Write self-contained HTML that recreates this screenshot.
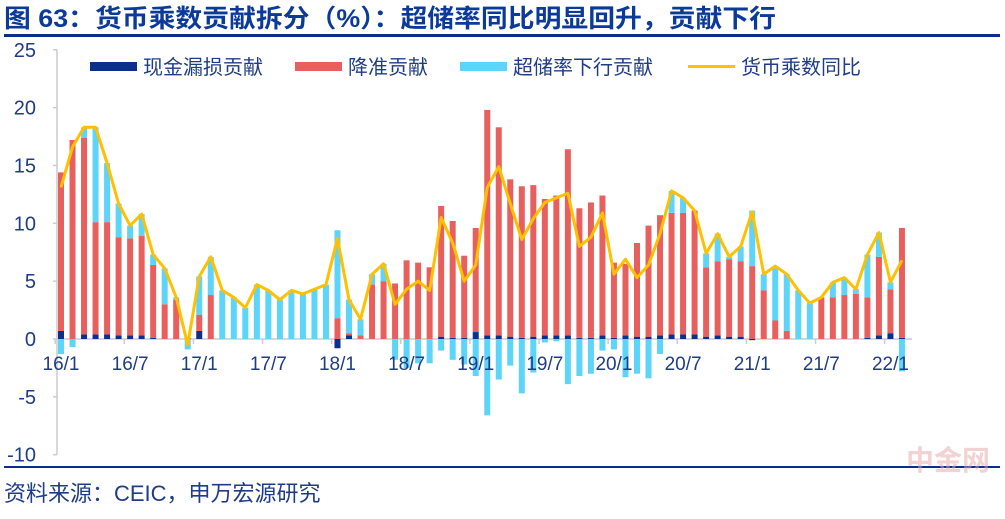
<!DOCTYPE html>
<html><head><meta charset="utf-8"><style>
body{margin:0;background:#fff;width:1005px;height:514px;overflow:hidden;font-family:"Liberation Sans","Noto Sans CJK SC",sans-serif}
</style></head><body>
<svg id="c" width="1005" height="514">
<text x="4" y="27" font-size="25" font-weight="bold" fill="#0B3A9A" font-family="Liberation Sans, Noto Sans CJK SC, sans-serif" textLength="772" lengthAdjust="spacingAndGlyphs">图 63：货币乘数贡献拆分（%）：超储率同比明显回升，贡献下行</text>
<rect x="4" y="34" width="996" height="3" fill="#0B2D8C"/>
<rect x="4" y="466" width="996" height="2" fill="#0B2D8C"/>
<text x="4" y="501" font-size="22" fill="#1F3C88" font-family="Liberation Sans, Noto Sans CJK SC, sans-serif">资料来源：CEIC，申万宏源研究</text>
<text x="990" y="470" text-anchor="end" font-size="28" font-weight="bold" fill="#e6a8a8" opacity="0.5" font-family="Noto Sans CJK SC, sans-serif">中金网</text>
<g id="plot"></g>
<g id="legend" font-size="20" fill="#1F3C88" font-family="Liberation Sans, Noto Sans CJK SC, sans-serif">
<rect x="90" y="62" width="47" height="9" fill="#0A2F8F"/>
<text x="143" y="74">现金漏损贡献</text>
<rect x="295" y="62" width="47" height="9" fill="#E8605E"/>
<text x="348" y="74">降准贡献</text>
<rect x="460" y="62" width="47" height="9" fill="#5DD4FA"/>
<text x="513" y="74">超储率下行贡献</text>
<rect x="688" y="65" width="47" height="3" fill="#FFC000"/>
<text x="741" y="74">货币乘数同比</text>
</g>
</svg>
<script>
const cash=[0.7,0,0.4,0.4,0.4,0.3,0.3,0.3,0.1,0,0,0.1, 0.7,0,0,0,0,0,0,0,0,0,0,0, -0.8,0.3,0,0,0,0,0,0,0,0.2,0.1,0.1, 0.6,0.3,0.3,0.2,0.1,0.2,0.3,0.3,0.3,0.1,0.1,0.3, 0.1,0.3,0.2,0.2,0.3,0.4,0.4,0.4,0.2,0.3,0.2,0.2, -0.1,0,0,0,0,0,0,0,0,0,0.1,0.3, 0.5,0.1];
const rrr=[13.7,17.2,17.0,9.7,9.7,8.5,8.4,8.6,6.3,3.0,3.4,0, 1.4,3.8,0,0,0,0,0,0,0,0,0,0, 1.8,0.2,0.3,4.7,5.0,4.8,6.8,6.6,6.2,11.3,10.1,7.1, 9.0,19.5,18.0,13.6,13.1,13.1,11.8,12.1,16.1,11.2,11.7,12.1, 6.5,6.2,8.1,9.6,10.4,10.5,10.5,10.7,6.0,6.4,6.7,6.5, 6.3,4.2,1.6,0.7,0,0,3.6,3.6,3.8,3.9,3.5,6.8, 3.8,9.5];
const excess=[-1.3,-0.7,0.9,8.2,5.1,2.9,1.1,1.9,0.9,3.1,0.2,-0.9, 3.3,3.3,4.2,3.6,2.7,4.7,4.2,3.4,4.2,3.9,4.3,4.7, 7.6,2.9,1.4,0.9,1.5,-1.8,-2.5,-2.1,-2.1,-1.0,-1.8,-2.2, -3.2,-6.6,-3.5,-2.3,-4.7,-2.9,-0.3,-0.2,-3.9,-3.2,-3.0,-1.0, -0.9,-3.3,-3.0,-3.4,-1.3,1.9,1.3,0,1.2,2.4,0.2,1.3, 4.8,1.4,4.7,4.9,4.2,3.1,0,1.3,1.5,0.4,3.7,2.1, 0.6,-2.8];
const multiplier=[13.1,16.6,18.3,18.3,15.2,11.7,9.8,10.8,7.3,6.1,3.6,-0.5, 5.4,7.1,4.2,3.6,2.7,4.7,4.2,3.4,4.2,3.9,4.3,4.7, 8.7,3.4,1.7,5.6,6.5,3.0,4.3,5.0,4.2,10.5,8.3,5.0, 6.4,13.1,14.9,11.7,8.6,10.4,11.8,12.2,12.6,8.0,8.8,10.9, 5.6,6.9,5.3,6.4,9.1,12.8,12.2,11.1,7.4,9.1,7.1,8.0, 11.0,5.6,6.3,5.6,4.2,3.1,3.6,4.9,5.3,4.3,7.3,9.2, 4.9,6.8];
const xLabels=["16/1","16/7","17/1","17/7","18/1","18/7","19/1","19/7","20/1","20/7","21/1","21/7","22/1"];
const yTicks=[25,20,15,10,5,0,-5,-10];

const NS="http://www.w3.org/2000/svg";
const g=document.getElementById('plot');
const Y=v=>339-v*11.57;
const X=i=>61+i*11.52;
function mk(t,a){const e=document.createElementNS(NS,t);for(const k in a)e.setAttribute(k,a[k]);g.appendChild(e);return e;}
let ax=mk('line',{x1:57,y1:Y(25),x2:57,y2:Y(-10),stroke:'#ccc','stroke-width':1.5});


yTicks.forEach(v=>{
  const tk=mk('line',{x1:53,y1:Y(v),x2:57,y2:Y(v),stroke:'#ccc','stroke-width':1.5});
  
  
  const t=mk('text',{x:36,y:Y(v)+7,'text-anchor':'end','font-size':20,fill:'#1F3C88'});
  t.textContent=v;
  
  
});
let xa=mk('line',{x1:57,y1:Y(0),x2:912,y2:Y(0),stroke:'#ccc','stroke-width':1.5});


const W=6;
for(let i=0;i<cash.length;i++){
  let pos=0,neg=0;
  [[cash[i],'#0A2F8F','bar-cash'],[rrr[i],'#E8605E','bar-rrr'],[excess[i],'#5DD4FA','bar-excess']].forEach(([v,c,n])=>{
    if(!v)return;
    let y0,y1;
    if(v>0){y0=pos;y1=pos+v;pos=y1;}else{y0=neg;y1=neg+v;neg=y1;}
    const r=mk('rect',{x:X(i)-W/2,y:Math.min(Y(y0),Y(y1)),width:W,height:Math.abs(Y(y0)-Y(y1)),fill:c});
    
    
  });
}
xLabels.forEach((l,k)=>{
  const i=k*6;
  const tk=mk('line',{x1:X(i)-5.8,y1:Y(0),x2:X(i)-5.8,y2:Y(0)+5,stroke:'#ccc','stroke-width':1.5});
  
  
  const t=mk('text',{x:X(i),y:370,'text-anchor':'middle','font-size':19,fill:'#1F3C88'});
  t.textContent=l;
  
  
});
const pl=mk('polyline',{points:multiplier.map((v,i)=>X(i)+','+Y(v)).join(' '),fill:'none',stroke:'#FFC000','stroke-width':3,'stroke-linejoin':'round'});


</script>
</body></html>
